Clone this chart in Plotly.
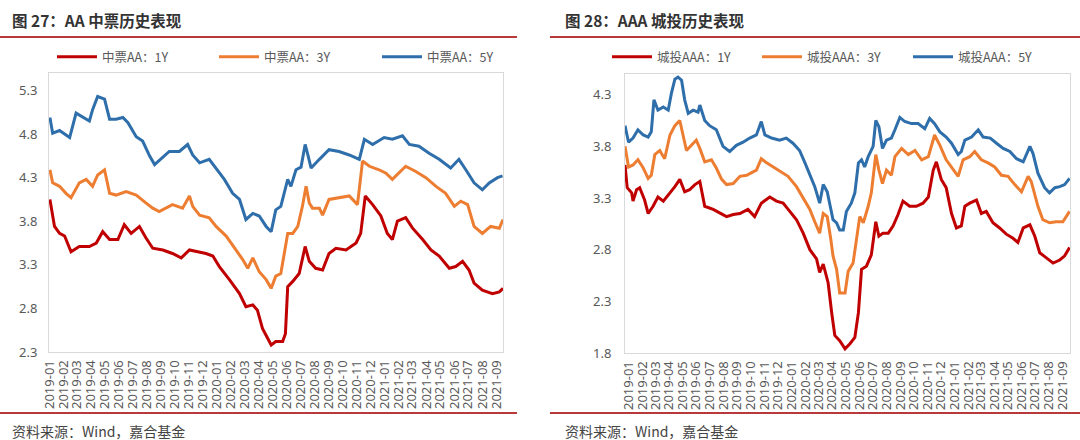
import plotly.graph_objects as go

# ---------------- data: left chart (AA 中票) ----------------
aa1y_dates = ["2019-01-02","2019-01-12","2019-01-23","2019-02-03","2019-02-17","2019-03-07","2019-03-29","2019-04-13","2019-04-27","2019-05-12","2019-05-30","2019-06-13","2019-06-28","2019-07-16","2019-07-30","2019-08-14","2019-09-05","2019-09-26","2019-10-15","2019-11-02","2019-11-20","2019-12-08","2019-12-23","2020-01-06","2020-01-28","2020-02-19","2020-03-04","2020-03-19","2020-03-29","2020-04-09","2020-04-20","2020-04-28","2020-05-08","2020-05-23","2020-05-29","2020-06-03","2020-06-14","2020-06-28","2020-07-11","2020-07-20","2020-08-03","2020-08-18","2020-09-01","2020-09-16","2020-10-08","2020-10-30","2020-11-09","2020-11-19","2020-12-05","2020-12-23","2021-01-06","2021-01-17","2021-01-28","2021-02-15","2021-03-02","2021-03-24","2021-04-11","2021-04-29","2021-05-21","2021-06-04","2021-06-19","2021-07-03","2021-07-14","2021-08-01","2021-08-23","2021-09-07","2021-09-15"]
aa1y_vals = [4.05,3.74,3.66,3.63,3.45,3.51,3.51,3.55,3.68,3.59,3.59,3.76,3.66,3.74,3.61,3.49,3.47,3.43,3.38,3.47,3.45,3.43,3.40,3.28,3.13,2.97,2.82,2.84,2.78,2.57,2.46,2.38,2.42,2.42,2.51,3.05,3.11,3.20,3.51,3.34,3.26,3.24,3.43,3.49,3.47,3.55,3.66,4.09,3.99,3.86,3.66,3.59,3.80,3.84,3.72,3.59,3.47,3.40,3.26,3.28,3.34,3.24,3.09,3.01,2.97,2.99,3.03]

aa3y_dates = ["2019-01-02","2019-01-08","2019-01-23","2019-02-06","2019-02-17","2019-03-07","2019-03-22","2019-04-05","2019-04-16","2019-05-01","2019-05-12","2019-05-26","2019-06-17","2019-07-09","2019-07-30","2019-08-14","2019-08-28","2019-09-12","2019-09-26","2019-10-18","2019-11-02","2019-11-09","2019-11-24","2019-12-15","2019-12-30","2020-01-21","2020-02-11","2020-02-26","2020-03-08","2020-03-19","2020-04-02","2020-04-17","2020-04-28","2020-05-08","2020-05-19","2020-06-03","2020-06-14","2020-06-25","2020-07-05","2020-07-13","2020-07-20","2020-07-27","2020-08-11","2020-08-18","2020-09-01","2020-09-23","2020-10-15","2020-11-02","2020-11-13","2020-11-28","2020-12-19","2021-01-03","2021-01-17","2021-02-15","2021-03-09","2021-03-31","2021-04-22","2021-05-13","2021-06-01","2021-06-15","2021-06-30","2021-07-14","2021-08-01","2021-08-19","2021-09-07","2021-09-15"]
aa3y_vals = [4.39,4.24,4.20,4.12,4.07,4.24,4.28,4.20,4.33,4.39,4.12,4.10,4.14,4.10,4.01,3.95,3.91,3.95,3.99,3.95,4.09,3.97,3.87,3.84,3.74,3.63,3.47,3.36,3.26,3.38,3.22,3.13,3.03,3.17,3.20,3.66,3.66,3.74,3.97,4.20,4.01,3.95,3.95,3.87,4.05,4.07,4.09,3.99,4.49,4.43,4.39,4.35,4.28,4.43,4.37,4.30,4.20,4.12,3.97,4.03,3.99,3.74,3.66,3.74,3.72,3.82]

aa5y_dates = ["2019-01-02","2019-01-08","2019-01-23","2019-02-03","2019-02-14","2019-02-28","2019-03-15","2019-03-29","2019-04-05","2019-04-16","2019-05-01","2019-05-12","2019-05-26","2019-06-10","2019-06-21","2019-07-09","2019-07-23","2019-08-07","2019-08-18","2019-09-05","2019-09-19","2019-10-11","2019-10-29","2019-11-09","2019-11-24","2019-12-15","2019-12-30","2020-01-17","2020-02-04","2020-02-19","2020-03-04","2020-03-19","2020-04-02","2020-04-17","2020-04-28","2020-05-08","2020-05-19","2020-06-03","2020-06-10","2020-06-21","2020-07-02","2020-07-11","2020-07-16","2020-07-24","2020-08-11","2020-09-01","2020-09-23","2020-10-15","2020-11-06","2020-11-17","2020-12-05","2020-12-30","2021-01-17","2021-02-08","2021-02-23","2021-03-16","2021-04-07","2021-04-29","2021-05-24","2021-06-11","2021-06-26","2021-07-14","2021-08-01","2021-08-16","2021-09-03","2021-09-14"]
aa5y_vals = [4.99,4.81,4.84,4.80,4.76,5.04,4.99,4.95,5.08,5.23,5.20,4.97,4.97,4.99,4.93,4.77,4.72,4.55,4.45,4.53,4.60,4.60,4.68,4.56,4.47,4.51,4.41,4.28,4.12,4.05,3.82,3.89,3.86,3.74,3.68,3.93,3.97,4.28,4.20,4.39,4.42,4.68,4.58,4.41,4.51,4.62,4.60,4.56,4.51,4.74,4.68,4.76,4.74,4.78,4.68,4.66,4.58,4.51,4.41,4.51,4.39,4.24,4.16,4.24,4.30,4.32]

# ---------------- data: right chart (AAA 城投) ----------------
c1y_dates = ["2018-12-23","2018-12-28","2019-01-07","2019-01-10","2019-01-18","2019-01-25","2019-02-05","2019-02-13","2019-02-24","2019-03-07","2019-03-19","2019-04-03","2019-04-14","2019-04-25","2019-05-06","2019-05-17","2019-05-29","2019-06-09","2019-06-20","2019-07-09","2019-07-28","2019-08-08","2019-08-23","2019-09-07","2019-09-25","2019-10-10","2019-10-25","2019-11-13","2019-11-28","2019-12-13","2019-12-28","2020-01-12","2020-01-27","2020-02-11","2020-02-26","2020-03-04","2020-03-12","2020-03-23","2020-03-31","2020-04-07","2020-04-18","2020-04-30","2020-05-11","2020-05-22","2020-05-30","2020-06-06","2020-06-17","2020-06-28","2020-07-08","2020-07-15","2020-07-24","2020-08-05","2020-08-16","2020-08-27","2020-09-07","2020-09-22","2020-10-07","2020-10-22","2020-11-03","2020-11-14","2020-11-21","2020-12-02","2020-12-13","2020-12-25","2021-01-05","2021-01-16","2021-01-24","2021-02-04","2021-02-19","2021-03-02","2021-03-13","2021-03-28","2021-04-12","2021-04-27","2021-05-12","2021-05-23","2021-06-04","2021-06-19","2021-06-30","2021-07-11","2021-07-26","2021-08-10","2021-08-25","2021-09-05","2021-09-16"]
c1y_vals = [3.62,3.40,3.35,3.27,3.38,3.40,3.28,3.15,3.22,3.31,3.27,3.35,3.41,3.48,3.36,3.38,3.43,3.46,3.22,3.19,3.15,3.12,3.14,3.15,3.19,3.12,3.25,3.31,3.27,3.25,3.17,3.09,2.96,2.80,2.71,2.58,2.66,2.48,2.19,1.97,1.92,1.84,1.89,1.95,2.19,2.61,2.64,2.75,3.07,2.93,2.96,2.96,3.03,3.14,3.27,3.22,3.22,3.25,3.31,3.57,3.65,3.48,3.40,3.15,3.01,3.03,3.22,3.25,3.28,3.15,3.17,3.06,3.01,2.95,2.91,2.87,3.01,3.04,2.93,2.77,2.72,2.67,2.70,2.74,2.82]

c3y_dates = ["2018-12-23","2018-12-31","2019-01-10","2019-01-21","2019-02-02","2019-02-13","2019-02-20","2019-02-28","2019-03-11","2019-03-22","2019-04-03","2019-04-14","2019-04-25","2019-05-03","2019-05-10","2019-05-21","2019-06-01","2019-06-09","2019-06-20","2019-07-05","2019-07-16","2019-07-28","2019-08-08","2019-08-23","2019-09-07","2019-09-22","2019-10-14","2019-10-25","2019-11-06","2019-11-21","2019-12-05","2019-12-24","2020-01-12","2020-01-27","2020-02-11","2020-02-22","2020-03-04","2020-03-12","2020-03-21","2020-03-29","2020-04-03","2020-04-11","2020-04-18","2020-04-30","2020-05-07","2020-05-18","2020-05-26","2020-06-02","2020-06-10","2020-06-21","2020-06-28","2020-07-08","2020-07-15","2020-07-23","2020-08-01","2020-08-12","2020-08-20","2020-09-04","2020-09-19","2020-10-04","2020-10-19","2020-11-03","2020-11-17","2020-11-29","2020-12-13","2020-12-29","2021-01-09","2021-01-20","2021-02-04","2021-02-15","2021-03-02","2021-03-17","2021-04-01","2021-04-16","2021-05-01","2021-05-16","2021-05-31","2021-06-15","2021-06-22","2021-07-07","2021-07-18","2021-08-02","2021-08-17","2021-09-01","2021-09-16"]
c3y_vals = [3.80,3.60,3.62,3.67,3.59,3.49,3.52,3.72,3.76,3.68,3.91,4.00,4.05,3.89,3.76,3.81,3.86,3.78,3.65,3.67,3.59,3.48,3.43,3.44,3.51,3.52,3.57,3.68,3.64,3.60,3.56,3.51,3.41,3.30,3.19,3.07,2.96,3.15,3.12,2.90,2.74,2.61,2.38,2.38,2.59,2.67,2.93,3.12,3.06,3.22,3.35,3.72,3.57,3.44,3.57,3.52,3.70,3.78,3.72,3.76,3.67,3.70,3.91,3.81,3.67,3.57,3.51,3.67,3.70,3.75,3.67,3.64,3.60,3.52,3.51,3.43,3.36,3.51,3.46,3.22,3.09,3.06,3.07,3.07,3.17]

c5y_dates = ["2018-12-23","2018-12-31","2019-01-10","2019-01-21","2019-02-02","2019-02-13","2019-02-20","2019-02-26","2019-03-07","2019-03-19","2019-03-30","2019-04-06","2019-04-14","2019-04-21","2019-04-29","2019-05-06","2019-05-14","2019-05-25","2019-06-05","2019-06-09","2019-06-20","2019-07-01","2019-07-16","2019-07-31","2019-08-15","2019-08-30","2019-09-14","2019-09-29","2019-10-14","2019-10-25","2019-11-02","2019-11-17","2019-12-05","2019-12-20","2020-01-04","2020-01-19","2020-01-31","2020-02-11","2020-02-22","2020-03-04","2020-03-12","2020-03-21","2020-03-29","2020-04-03","2020-04-11","2020-04-18","2020-04-26","2020-05-03","2020-05-14","2020-05-22","2020-05-30","2020-06-06","2020-06-13","2020-06-21","2020-07-02","2020-07-08","2020-07-15","2020-07-23","2020-08-01","2020-08-12","2020-08-20","2020-08-31","2020-09-11","2020-09-26","2020-10-11","2020-10-26","2020-11-06","2020-11-17","2020-11-29","2020-12-13","2020-12-25","2021-01-09","2021-01-16","2021-01-24","2021-02-08","2021-02-23","2021-03-06","2021-03-22","2021-04-05","2021-04-20","2021-05-05","2021-05-20","2021-06-04","2021-06-19","2021-06-26","2021-07-07","2021-07-22","2021-08-02","2021-08-14","2021-08-25","2021-09-05","2021-09-16"]
c5y_vals = [4.00,3.84,3.88,3.96,3.91,3.89,3.94,4.25,4.15,4.18,4.15,4.31,4.45,4.47,4.44,4.25,4.12,4.15,4.13,4.20,4.05,4.00,3.96,3.80,3.75,3.81,3.84,3.88,3.91,4.04,3.91,3.88,3.86,3.88,3.83,3.76,3.64,3.52,3.41,3.25,3.43,3.36,3.20,3.09,3.06,2.99,2.99,3.17,3.25,3.35,3.64,3.67,3.60,3.70,3.80,4.05,3.99,3.78,3.86,3.88,3.96,4.08,4.04,4.02,4.02,3.97,4.07,4.02,3.94,3.89,3.83,3.72,3.75,3.86,3.89,3.96,3.89,3.88,3.83,3.78,3.75,3.68,3.65,3.80,3.73,3.54,3.40,3.35,3.40,3.41,3.43,3.49]

# ---------------- labels / ticks ----------------
left_names = ["中票AA：1Y", "中票AA：3Y", "中票AA：5Y"]
right_names = ["城投AAA：1Y", "城投AAA：3Y", "城投AAA：5Y"]
month_ticks = [f"{y}-{m:02d}-01" for y in (2019, 2020, 2021) for m in range(1, 13)
               if not (y == 2021 and m > 9)]
month_labels = [t[:7] for t in month_ticks]
left_yticks = [2.3, 2.8, 3.3, 3.8, 4.3, 4.8, 5.3]
right_yticks = [1.8, 2.3, 2.8, 3.3, 3.8, 4.3]
left_title = "图 27：AA 中票历史表现"
right_title = "图 28：AAA 城投历史表现"
source_text = "资料来源：Wind，嘉合基金"

colors = ["#C00000", "#ED7D31", "#2E6EAA"]
W, H = 1080, 440

def px_x(p):
    return p / W

def px_y(p):
    return (H - p) / H

# legend anchor pixels (left edge of each legend entry)
left_legend_x = [52, 214, 377]
right_legend_x = [607, 757, 908]

fig = go.Figure()
left_series = [(aa1y_dates, aa1y_vals), (aa3y_dates, aa3y_vals), (aa5y_dates, aa5y_vals)]
right_series = [(c1y_dates, c1y_vals), (c3y_dates, c3y_vals), (c5y_dates, c5y_vals)]
legend_defs = {}
k = 0
for series, names, axes, lxs in [(left_series, left_names, ("x", "y"), left_legend_x),
                                 (right_series, right_names, ("x2", "y2"), right_legend_x)]:
    for (d, v), name, c, lx in zip(series, names, colors, lxs):
        k += 1
        lid = "legend" if k == 1 else f"legend{k}"
        fig.add_trace(go.Scatter(x=d, y=v, name=name, mode="lines",
                                 line=dict(color=c, width=3), xaxis=axes[0], yaxis=axes[1],
                                 legend=lid))
        legend_defs[lid] = dict(orientation="h", x=px_x(lx), xanchor="left",
                                y=px_y(57), yanchor="middle", itemwidth=40,
                                font=dict(family="Noto Sans CJK SC", size=12.5, color="#595959"),
                                bgcolor="rgba(0,0,0,0)", borderwidth=0)

tickfont_x = dict(family="Noto Sans", size=13, color="#595959")
tickfont_y = dict(family="Noto Sans", size=13, color="#595959")
frame = dict(showline=True, mirror=True, linecolor="#D9D9D9", linewidth=1,
             showgrid=False, zeroline=False, ticks="", automargin=False)

fig.update_layout(
    width=W, height=H, margin=dict(l=0, r=0, t=0, b=0),
    paper_bgcolor="white", plot_bgcolor="white",
    font=dict(family="Noto Sans CJK SC", color="#595959"),
    xaxis=dict(domain=[px_x(49), px_x(503)], anchor="y", type="date",
               range=["2018-12-31", "2021-09-15"], tickvals=month_ticks,
               ticktext=month_labels, tickangle=-90, tickfont=tickfont_x,
               ticklabelstandoff=2, **frame),
    yaxis=dict(domain=[px_y(352), px_y(73)], anchor="x", range=[2.3, 5.5],
               tickvals=left_yticks, tickformat=".1f", tickfont=tickfont_y,
               ticklabelstandoff=8, **frame),
    xaxis2=dict(domain=[px_x(625), px_x(1070)], anchor="y2", type="date",
                range=["2018-12-23", "2021-09-17"], tickvals=month_ticks,
                ticktext=month_labels, tickangle=-90, tickfont=tickfont_x,
                ticklabelstandoff=2, **frame),
    yaxis2=dict(domain=[px_y(353), px_y(74)], anchor="x2", range=[1.8, 4.5],
                tickvals=right_yticks, tickformat=".1f", tickfont=tickfont_y,
                ticklabelstandoff=10, **frame),
    showlegend=True,
    **legend_defs,
)

line_col = "#B8383C"
for x0, x1 in [(0, 517), (550, 1080)]:
    for yy in (37, 413):
        fig.add_shape(type="line", xref="paper", yref="paper",
                      x0=px_x(x0), x1=px_x(x1), y0=px_y(yy), y1=px_y(yy),
                      line=dict(color=line_col, width=2))

for xx, t in [(10, left_title), (563, right_title)]:
    fig.add_annotation(text=f"<b>{t}</b>", xref="paper", yref="paper",
                       x=px_x(xx), y=px_y(20), xanchor="left", yanchor="middle",
                       showarrow=False,
                       font=dict(family="Noto Sans CJK SC", size=15.5, color="#333333"))
for xx in (10, 563):
    fig.add_annotation(text=source_text, xref="paper", yref="paper",
                       x=px_x(xx), y=px_y(431), xanchor="left", yanchor="middle",
                       showarrow=False,
                       font=dict(family="Noto Sans CJK SC", size=14, color="#444444"))

fig.write_html("out.html")
